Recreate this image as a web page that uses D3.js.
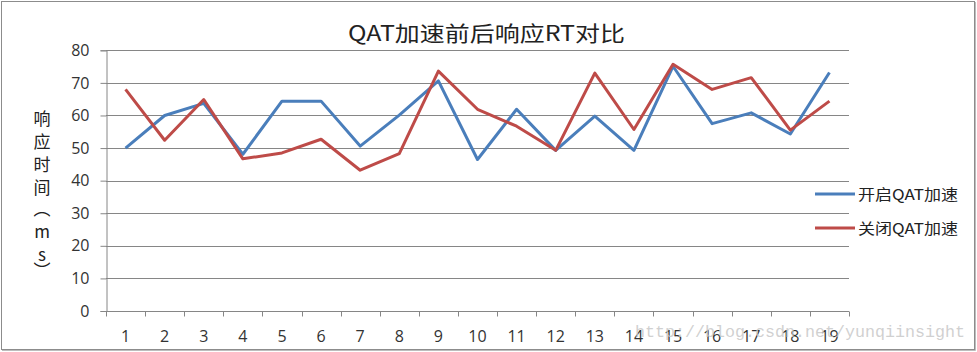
<!DOCTYPE html>
<html>
<head>
<meta charset="utf-8">
<script src="https://cdn.jsdelivr.net/npm/d3@7"></script>
<style>
  body { margin: 0; background: #fff; }
  svg { display: block; }
  .tickLabel { font-family: "Open Sans", "Liberation Sans", sans-serif; font-size: 16px; fill: #333; }
  .cjk { font-family: "Noto Sans CJK SC", sans-serif; fill: #222; }
</style>
</head>
<body>
<div id="chart"></div>
<script>
// ##################################
// QAT 加速前后 响应RT 对比
// ##################################

// Data
const categories = d3.range(1, 20).map(String);
const yTicks = [0, 10, 20, 30, 40, 50, 60, 70, 80];
const qatOn  = [50, 60, 63.7, 48.1, 64.4, 64.4, 50.6, 60.1, 70.6, 46.5, 61.9, 49.3, 59.8, 49.3, 75.1, 57.5, 60.8, 54.3, 73.2];
const qatOff = [68, 52.4, 64.9, 46.7, 48.5, 52.7, 43.2, 48.3, 73.6, 61.9, 56.7, 49.3, 73, 55.7, 75.7, 68, 71.6, 55.5, 64.4];
const seriesNames = ["开启QAT加速", "关闭QAT加速"];
const seriesColors = ["#4a7ebb", "#be4b48"];

// Store values for svg creation
const w = 977;
const h = 352;
const x_left = 106;
const x_right = 849;
const y_top = 50.3;
const y_bottom = 311;

let svg = d3.select("#chart")
  .append("svg")
  .attr("width", w)
  .attr("height", h);

// Outer frame
svg.append("rect")
  .attr("x", 1.5).attr("y", 1.5)
  .attr("width", 973).attr("height", 348)
  .attr("fill", "#fff")
  .attr("stroke", "#8c8c8c");
svg.append("path")
  .attr("d", "M975.5,2V350.5H2")
  .attr("fill", "none")
  .attr("stroke", "#bdbdbd")
  .attr("stroke-width", 1);

// Scales
const xScale = d3.scaleBand()
  .domain(categories)
  .range([x_left, x_right]);

const yScale = d3.scaleLinear()
  .domain([0, 80])
  .range([y_bottom, y_top]);

// Gridlines
svg.append("g")
  .selectAll("line")
  .data(yTicks.filter(d => d > 0))
  .join("line")
    .attr("x1", x_left)
    .attr("x2", x_right)
    .attr("y1", d => Math.round(yScale(d)) + 0.5)
    .attr("y2", d => Math.round(yScale(d)) + 0.5)
    .attr("stroke", "#868686");

// Add y axis
const yAxis = d3.axisLeft(yScale)
  .tickValues(yTicks)
  .tickSize(6)
  .tickPadding(11);

const gy = svg.append("g")
  .attr("transform", "translate(" + (x_left + 0.5) + ",0)")
  .call(yAxis);
gy.select(".domain").attr("stroke", "#868686");
gy.selectAll(".tick line").attr("stroke", "#868686");
gy.selectAll(".tick text").attr("class", "tickLabel").attr("font-size", null).attr("font-family", null);

// Add x axis (ticks at category boundaries)
const gx = svg.append("g")
  .attr("transform", "translate(0," + (Math.round(y_bottom) + 0.5) + ")");
gx.append("line")
  .attr("x1", x_left).attr("x2", x_right)
  .attr("stroke", "#868686");
gx.selectAll(".bound")
  .data(categories.concat(["end"]))
  .join("line")
    .attr("class", "bound")
    .attr("x1", (d, i) => Math.round(x_left + i * xScale.step()) + 0.5)
    .attr("x2", (d, i) => Math.round(x_left + i * xScale.step()) + 0.5)
    .attr("y1", 0).attr("y2", 5)
    .attr("stroke", "#868686");
gx.selectAll("text")
  .data(categories)
  .join("text")
    .attr("class", "tickLabel")
    .attr("text-anchor", "middle")
    .attr("x", d => xScale(d) + xScale.bandwidth() / 2)
    .attr("y", 30)
    .text(d => d);

// Plot lines
let line = d3.line()
  .x((d, i) => xScale(categories[i]) + xScale.bandwidth() / 2)
  .y(d => yScale(d));

svg.append("g")
  .selectAll("path")
  .data([qatOn, qatOff])
  .join("path")
    .attr("fill", "none")
    .attr("stroke", (d, i) => seriesColors[i])
    .attr("stroke-width", 3)
    .attr("stroke-linejoin", "round")
    .attr("d", d => line(d));

// Title
svg.append("text")
  .attr("class", "cjk")
  .attr("x", 348)
  .attr("y", 41)
  .attr("font-size", 21)
  .attr("textLength", 277)
  .attr("lengthAdjust", "spacingAndGlyphs")
  .attr("fill", "#111")
  .text("QAT加速前后响应RT对比");

// Y axis label, stacked characters
const yLabel = ["响", "应", "时", "间", "︵", "m", "s", "︶"];
const yLabelPos = [117, 140, 163, 186, 207, 230, 253, 269];
svg.append("g")
  .selectAll("text")
  .data(yLabel)
  .join("text")
    .attr("class", "cjk")
    .attr("font-size", 17)
    .attr("text-anchor", "middle")
    .attr("dominant-baseline", "central")
    .attr("x", 42)
    .attr("y", (d, i) => yLabelPos[i])
    .text(d => d);

// Legend
const legend = svg.append("g")
  .selectAll("g")
  .data(seriesNames)
  .join("g")
    .attr("transform", (d, i) => "translate(815," + (194 + i * 34) + ")");
legend.append("line")
  .attr("x1", 0).attr("x2", 40)
  .attr("stroke", (d, i) => seriesColors[i])
  .attr("stroke-width", 3);
legend.append("text")
  .attr("class", "cjk")
  .attr("x", 43)
  .attr("y", 6)
  .attr("font-size", 15)
  .attr("textLength", 100)
  .attr("lengthAdjust", "spacingAndGlyphs")
  .text(d => d);

// Watermark
svg.append("text")
  .attr("x", 635)
  .attr("y", 337)
  .attr("font-family", "Liberation Mono, monospace")
  .attr("font-size", 17)
  .attr("textLength", 330)
  .attr("lengthAdjust", "spacingAndGlyphs")
  .attr("fill", "#c8c8c8")
  .attr("fill-opacity", 0.85)
  .text("http://blog.csdn.net/yunqiinsight");
</script>
</body>
</html>
